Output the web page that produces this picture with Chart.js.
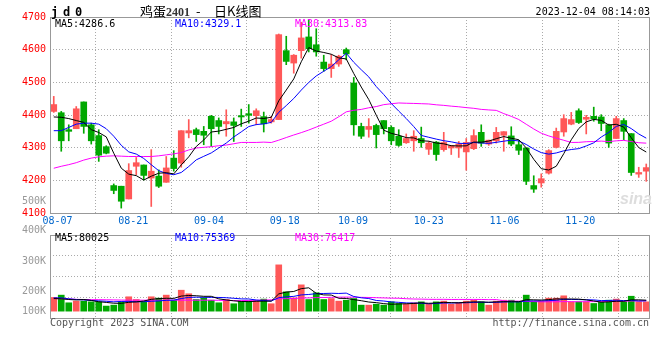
<!DOCTYPE html>
<html>
<head>
<meta charset="utf-8">
<script src="https://cdn.jsdelivr.net/npm/chart.js@4.4.0/dist/chart.umd.min.js"></script>
<style>
  body { margin: 0; background: #fff; }
  #wrap { position: relative; width: 660px; height: 360px; overflow: hidden; }
  canvas { position: absolute; left: 0; }
  #kChart { top: 0; }
  #vChart { top: 232px; }
  .t { position: absolute; font: 10px 'DejaVu Sans Mono', monospace; line-height: 12px; white-space: pre; }
  .gray { color: #999; }
</style>
</head>
<body>
<div id="wrap">
  <canvas id="kChart" width="660" height="230"></canvas>
  <canvas id="vChart" width="660" height="90"></canvas>

  <div class="t" style="left:51px;top:5px;font:bold 12px 'DejaVu Sans Mono';letter-spacing:4.8px">jd0</div>
  <div class="t" style="left:140px;top:4px;font:13px 'Noto Sans CJK SC';line-height:13px">鸡蛋<span style="font:bold 12px 'Liberation Serif';color:#333">2401</span></div>
  <div class="t" style="left:196px;top:4px;font:13px 'Noto Sans CJK SC';line-height:13px">-</div>
  <div class="t" style="left:214px;top:4px;font:13px 'Noto Sans CJK SC';line-height:13px">日K线图</div>
  <div class="t" style="right:10px;top:5.5px">2023-12-04 08:14:03</div>

  <div class="t" style="left:55px;top:18px;color:#000">MA5:4286.6</div>
  <div class="t" style="left:175px;top:18px;color:#0000ff">MA10:4329.1</div>
  <div class="t" style="left:295px;top:18px;color:#ff00ff">MA30:4313.83</div>

  <div class="t gray" style="right:614px;top:194.7px">500K</div>
  <div class="t" style="left:620px;top:190px;font:italic bold 16px 'Liberation Sans';color:#ddd">sina</div>

  <div class="t gray" style="right:614px;top:224px">400K</div>
  <div class="t gray" style="right:614px;top:254.7px">300K</div>
  <div class="t gray" style="right:614px;top:284.7px">200K</div>
  <div class="t gray" style="right:614px;top:304.7px">100K</div>

  <div class="t" style="left:55px;top:232px;color:#000">MA5:80025</div>
  <div class="t" style="left:175px;top:232px;color:#0000ff">MA10:75369</div>
  <div class="t" style="left:295px;top:232px;color:#ff00ff">MA30:76417</div>

  <div class="t" style="left:50px;top:317.3px;color:#555">Copyright 2023 SINA.COM</div>
  <div class="t" style="right:11px;top:317.3px;color:#555">http://finance.sina.com.cn</div>
</div>

<script>
// trading days, 2023-08-04 .. 2023-12-01
const dates = ('08-04 08-07 08-08 08-09 08-10 08-11 08-14 08-15 08-16 08-17 08-18 08-21 08-22 08-23 08-24 08-25 08-28 08-29 08-30 08-31 ' +
    '09-01 09-04 09-05 09-06 09-07 09-08 09-11 09-12 09-13 09-14 09-15 09-18 09-19 09-20 09-21 09-22 09-25 09-26 09-27 09-28 ' +
    '10-09 10-10 10-11 10-12 10-13 10-16 10-17 10-18 10-19 10-20 10-23 10-24 10-25 10-26 10-27 10-30 10-31 ' +
    '11-01 11-02 11-03 11-06 11-07 11-08 11-09 11-10 11-13 11-14 11-15 11-16 11-17 11-20 11-21 11-22 11-23 11-24 11-27 11-28 11-29 11-30 12-01').split(' ');
const xTickLabels = ['08-07', '08-21', '09-04', '09-18', '10-09', '10-23', '11-06', '11-20'];

const opens = [4411, 4407, 4355, 4358, 4440, 4370, 4337, 4303, 4184, 4182,
    4143, 4243, 4247, 4207, 4213, 4194, 4268, 4253, 4345, 4355,
    4350, 4396, 4383, 4373, 4379, 4398, 4404, 4398, 4395, 4379,
    4386, 4597, 4559, 4597, 4639, 4615, 4562, 4542, 4556, 4600,
    4498, 4365, 4356, 4368, 4383, 4362, 4335, 4315, 4321, 4328,
    4295, 4317, 4294, 4299, 4299, 4287, 4297, 4347, 4311, 4321,
    4338, 4336, 4309, 4299, 4184, 4192, 4222, 4301, 4348, 4372,
    4413, 4387, 4396, 4394, 4370, 4328, 4383, 4343, 4219, 4228];
const highs = [4457, 4411, 4370, 4426, 4440, 4375, 4355, 4306, 4189, 4182,
    4251, 4270, 4247, 4294, 4232, 4273, 4291, 4352, 4386, 4360,
    4365, 4399, 4391, 4416, 4391, 4418, 4432, 4419, 4409, 4396,
    4648, 4641, 4585, 4684, 4692, 4664, 4583, 4585, 4583, 4605,
    4515, 4375, 4389, 4372, 4383, 4367, 4355, 4342, 4352, 4363,
    4319, 4319, 4347, 4306, 4319, 4328, 4355, 4370, 4323, 4362,
    4349, 4364, 4322, 4299, 4214, 4220, 4294, 4360, 4401, 4408,
    4419, 4399, 4424, 4401, 4372, 4396, 4389, 4343, 4240, 4250];
const lows = [4408, 4289, 4321, 4358, 4344, 4311, 4258, 4281, 4159, 4115,
    4143, 4217, 4201, 4120, 4178, 4194, 4228, 4240, 4330, 4319,
    4309, 4304, 4342, 4335, 4319, 4365, 4375, 4370, 4348, 4375,
    4386, 4554, 4528, 4574, 4593, 4580, 4534, 4515, 4549, 4569,
    4338, 4328, 4332, 4299, 4342, 4309, 4304, 4313, 4289, 4301,
    4279, 4261, 4289, 4279, 4270, 4231, 4294, 4304, 4307, 4314,
    4289, 4306, 4279, 4187, 4163, 4179, 4219, 4299, 4335, 4370,
    4374, 4342, 4381, 4352, 4301, 4328, 4324, 4215, 4209, 4197];
const closes = [4432, 4321, 4350, 4419, 4365, 4321, 4277, 4283, 4169, 4136,
    4230, 4254, 4215, 4228, 4182, 4238, 4236, 4352, 4352, 4340,
    4338, 4358, 4365, 4380, 4368, 4394, 4399, 4413, 4373, 4386,
    4646, 4564, 4583, 4636, 4603, 4593, 4542, 4556, 4580, 4587,
    4370, 4335, 4365, 4340, 4358, 4321, 4307, 4328, 4335, 4315,
    4314, 4279, 4316, 4306, 4311, 4316, 4337, 4314, 4323, 4347,
    4349, 4311, 4292, 4197, 4173, 4205, 4291, 4350, 4389, 4386,
    4377, 4393, 4388, 4374, 4314, 4389, 4350, 4224, 4224, 4239];

const ma5 = [4394, 4393, 4389, 4383, 4377.4, 4355.2, 4346.4, 4333, 4283, 4237.2,
    4219, 4214.4, 4200.8, 4212.6, 4221.8, 4223.4, 4219.8, 4247.2, 4272, 4303.6,
    4323.6, 4348, 4350.6, 4356.2, 4361.8, 4373, 4381.2, 4390.8, 4389.4, 4393,
    4443.4, 4476.4, 4510.4, 4563, 4606.4, 4595.8, 4591.4, 4586, 4574.8, 4571.6,
    4527, 4485.6, 4447.4, 4399.4, 4353.6, 4343.8, 4338.2, 4330.8, 4329.8, 4321.2,
    4319.8, 4314.2, 4311.8, 4306, 4305.2, 4305.6, 4317.2, 4316.8, 4320.2, 4327.4,
    4334, 4328.8, 4324.4, 4299.2, 4264.4, 4235.6, 4231.6, 4243.2, 4281.6, 4324.2,
    4358.6, 4379, 4386.6, 4383.6, 4369.2, 4371.6, 4363, 4330.2, 4300.2, 4286.6];
const ma10 = [4352, 4352, 4362, 4372, 4375, 4375, 4372, 4358, 4335, 4307.3,
    4287.1, 4280.4, 4266.9, 4247.8, 4229.5, 4221.2, 4217.1, 4224, 4242.3, 4262.7,
    4273.5, 4283.9, 4298.9, 4314.1, 4332.7, 4348.3, 4364.6, 4370.7, 4372.8, 4377.4,
    4408.2, 4428.8, 4450.6, 4476.2, 4499.7, 4519.6, 4533.9, 4548.2, 4568.9, 4589,
    4561.4, 4538.5, 4516.7, 4487.1, 4462.6, 4435.4, 4411.9, 4389.1, 4364.6, 4337.4,
    4331.8, 4326.2, 4321.3, 4317.9, 4313.2, 4312.7, 4315.7, 4314.3, 4313.1, 4316.3,
    4319.8, 4323, 4320.6, 4309.7, 4295.9, 4284.8, 4280.2, 4283.8, 4290.4, 4294.3,
    4297.1, 4305.3, 4314.9, 4332.6, 4346.7, 4365.1, 4371, 4358.4, 4341.9, 4329.1];
const ma30 = [4237, 4243, 4248, 4254, 4262, 4268, 4272, 4274, 4275, 4274,
    4273, 4273, 4273, 4273, 4275, 4278, 4281, 4285, 4293, 4299,
    4301, 4303, 4306, 4308, 4312, 4316, 4316, 4316, 4317, 4315.8,
    4322.9, 4331, 4338.8, 4346, 4354, 4363, 4371.9, 4381, 4394.7, 4409.7,
    4414.4, 4417.1, 4422.1, 4425.8, 4431.7, 4434.4, 4436.8, 4436, 4435.4, 4434.6,
    4433.8, 4431.2, 4429.5, 4427.1, 4425.2, 4422.6, 4420.5, 4417.2, 4415.5, 4414.2,
    4404.3, 4395.9, 4386.2, 4371.6, 4357.2, 4344.3, 4335.9, 4329.1, 4322.7, 4316,
    4316.2, 4318.2, 4318.9, 4320.1, 4318.6, 4320.9, 4322.3, 4318.8, 4315.1, 4313.83];

const volumes = [100000, 117000, 61000, 73000, 73000, 68000, 68000, 37000, 44000, 68000,
    105000, 85000, 68000, 105000, 95000, 117000, 80000, 153000, 127000, 85000,
    97000, 80000, 61000, 85000, 54000, 73000, 75000, 75000, 88000, 54000,
    338000, 141000, 97000, 192000, 85000, 134000, 85000, 92000, 73000, 80000,
    92000, 44000, 44000, 51000, 44000, 68000, 56000, 51000, 61000, 68000,
    51000, 68000, 73000, 51000, 61000, 73000, 80000, 68000, 44000, 73000,
    80000, 80000, 68000, 117000, 68000, 73000, 95000, 95000, 112000, 68000,
    68000, 68000, 56000, 68000, 80000, 88000, 68000, 109000, 68000, 68000];
const volMa5 = [92000, 90000, 85000, 82000, 84800, 78400, 68600, 63800, 58000, 57000,
    64400, 67800, 74000, 86200, 91600, 94000, 93000, 110000, 114400, 112400,
    108400, 108400, 90000, 81600, 75400, 70600, 69600, 72400, 73000, 73000,
    126000, 139200, 143600, 164400, 170600, 129800, 118600, 117600, 93800, 92800,
    84400, 76200, 66600, 62200, 55000, 50200, 52600, 54000, 56000, 60800,
    57400, 59800, 64200, 62200, 60800, 65200, 67600, 66600, 65200, 67600,
    69000, 69000, 69000, 83600, 82600, 81200, 84200, 89600, 88600, 88600,
    87600, 82200, 74400, 65600, 68000, 72000, 72000, 82600, 82600, 80025];
const volMa10 = [97000, 97000, 90000, 85000, 82000, 78000, 75000, 72000, 68000, 70900,
    71400, 68200, 68900, 72100, 74300, 79200, 80400, 92000, 100300, 102000,
    101200, 100700, 100000, 98000, 93900, 89500, 89000, 81200, 77300, 74200,
    98300, 104400, 108000, 118700, 121800, 127900, 128900, 130600, 129100, 131700,
    107100, 97400, 92100, 78000, 73900, 67300, 64400, 60300, 59100, 57900,
    53800, 56200, 59100, 59100, 60800, 61300, 63700, 65400, 63700, 64200,
    67100, 68300, 67800, 74400, 75100, 75100, 76600, 79300, 86100, 85600,
    84400, 83200, 82000, 77100, 78300, 79800, 77100, 78500, 74100, 75369];
const volMa30 = [92000, 91000, 89000, 86000, 85000, 84000, 84000, 83000, 82000, 81000,
    80000, 80000, 80000, 80000, 80000, 80000, 80000, 80000, 80000, 80000,
    80000, 80000, 79000, 78000, 77000, 77000, 78000, 79000, 81000, 82400,
    90300, 91100, 92300, 96300, 96700, 98900, 99400, 101300, 102200, 102600,
    102200, 100800, 100000, 98200, 96500, 94900, 94100, 90700, 88500, 87900,
    86400, 86000, 86400, 85200, 85500, 85500, 85600, 85400, 83900, 84600,
    76000, 73900, 73000, 70500, 69900, 67900, 68200, 68300, 69600, 69200,
    68400, 69200, 69600, 70200, 71400, 72100, 72500, 74400, 74600, 76417];

const UP = '#ff5858';
const DOWN = '#00a800';
const GRID = '#aaa';
const MONO = "'DejaVu Sans Mono', monospace";
// Sina spaces its date grid a touch wider than the candles
const GRID_STRETCH = 1.01;

const idx = dates.map((d, i) => i);
const isUp = closes.map((c, i) => c >= opens[i]);
const candleColor = (ctx) => isUp[ctx.dataIndex] ? UP : DOWN;
const points = (arr) => idx.map(i => ({ x: i, y: arr[i] }));
const gridPos = (label) => (dates.indexOf(label) - 0.5) * GRID_STRETCH;

const maLine = (label, arr, color) => ({
    type: 'line', label, data: points(arr), borderColor: color, borderWidth: 1,
    pointRadius: 0, tension: 0, fill: false, order: 0
});

// draws the box round the plot area
const framePlugin = {
    id: 'frame',
    afterDraw(chart) {
        const { ctx, chartArea: a } = chart;
        ctx.save();
        ctx.strokeStyle = '#999';
        ctx.lineWidth = 1;
        ctx.strokeRect(Math.round(a.left) + 0.5, Math.round(a.top) + 0.5,
            Math.round(a.right - a.left) - 1, Math.round(a.bottom - a.top));
        ctx.restore();
    }
};

const xScale = (showLabels, height) => ({
    type: 'linear', min: -0.5, max: 79.5, offset: false,
    afterBuildTicks: (s) => { s.ticks = xTickLabels.map(l => ({ value: gridPos(l) })); },
    afterFit: (s) => { s.height = height; },
    grid: { color: GRID, drawTicks: false },
    border: { display: false, dash: [1, 2] },
    ticks: {
        display: showLabels, autoSkip: false, maxRotation: 0, padding: 2,
        color: '#0066cc', font: { family: MONO, size: 10 },
        callback: (v, i) => xTickLabels[i]
    }
});

const baseOptions = {
    responsive: false,
    animation: false,
    datasets: { bar: { grouped: false, borderWidth: 0 } },
    plugins: { legend: { display: false }, tooltip: { enabled: false } }
};

// price panel
new Chart(document.getElementById('kChart'), {
    type: 'bar',
    data: {
        datasets: [
            maLine('MA5', ma5, '#000000'),
            maLine('MA10', ma10, '#0000ff'),
            maLine('MA30', ma30, '#ff00ff'),
            {
                label: 'body', data: idx.map(i => ({ x: i, y: [opens[i], closes[i]] })),
                backgroundColor: candleColor, barThickness: 6, minBarLength: 1, order: 1
            },
            {
                label: 'wick', data: idx.map(i => ({ x: i, y: [lows[i], highs[i]] })),
                backgroundColor: candleColor, barThickness: 1, order: 2
            }
        ]
    },
    options: {
        ...baseOptions,
        layout: { padding: { top: 17, right: 10, left: 0, bottom: 0 } },
        scales: {
            x: xScale(true, 17),
            y: {
                min: 4100, max: 4700,
                afterFit: (s) => { s.width = 50; },
                grid: { color: GRID, drawTicks: false },
                border: { display: false, dash: [1, 2] },
                ticks: {
                    stepSize: 100, padding: 4, color: '#ff0000', font: { family: MONO, size: 10 },
                    callback: (v) => String(v)
                }
            }
        }
    },
    plugins: [framePlugin]
});

// volume panel
new Chart(document.getElementById('vChart'), {
    type: 'bar',
    data: {
        datasets: [
            maLine('MA5', volMa5, '#000000'),
            maLine('MA10', volMa10, '#0000ff'),
            maLine('MA30', volMa30, '#ff00ff'),
            {
                label: 'volume', data: points(volumes),
                backgroundColor: candleColor, barThickness: 6, order: 1
            }
        ]
    },
    options: {
        ...baseOptions,
        layout: { padding: { top: 3, right: 10, left: 0, bottom: 4 } },
        scales: {
            x: xScale(false, 0),
            y: {
                min: -50000, max: 556000,
                afterFit: (s) => { s.width = 50; },
                grid: { color: GRID, drawTicks: false },
                border: { display: false, dash: [1, 2] },
                ticks: { display: false, stepSize: 151500 }
            }
        }
    },
    plugins: [framePlugin]
});
</script>
</body>
</html>
